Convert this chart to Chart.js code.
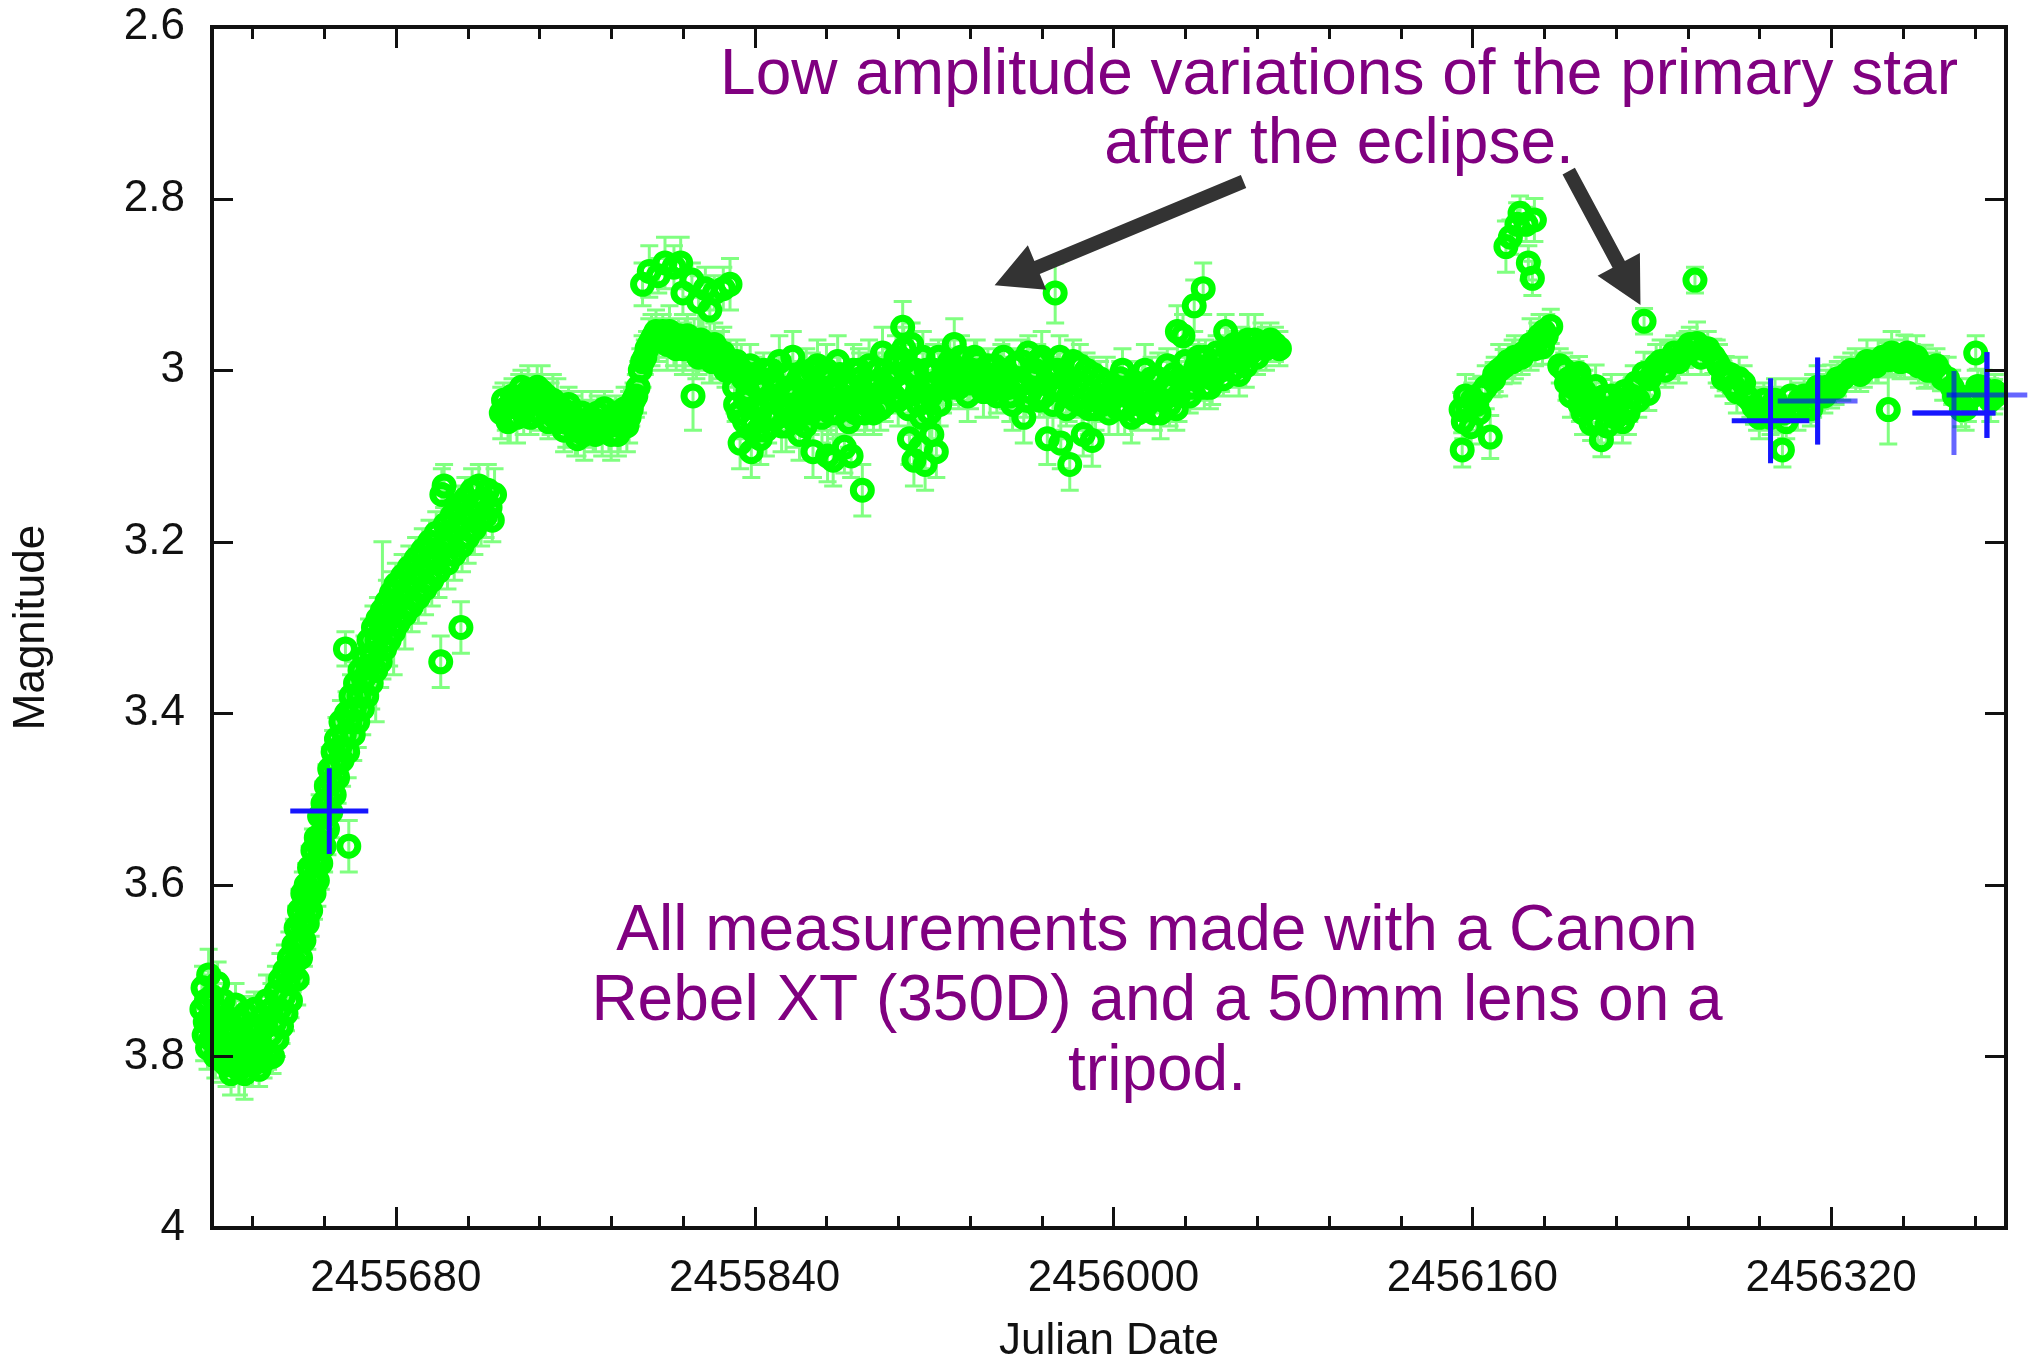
<!DOCTYPE html>
<html>
<head>
<meta charset="utf-8">
<script src="https://cdn.jsdelivr.net/npm/chart.js@4.4.1/dist/chart.umd.min.js"></script>
<style>
  html, body { margin: 0; padding: 0; background: #fff; }
  canvas { display: block; }
</style>
</head>
<body>
<canvas id="lightCurve" width="2038" height="1364"></canvas>
<script>
// === DATA: [julian date, magnitude, error] ===
// eclipse egress
const egress = [
  [2455593.5,3.745,.03],[2455594,3.720,.025],[2455594.5,3.775,.03],[2455595,3.760,.02],[2455595.5,3.735,.03],
  [2455596,3.790,.025],[2455596.5,3.705,.03],[2455597,3.755,.02],[2455597.5,3.780,.025],[2455598,3.730,.03],
  [2455599,3.765,.02],[2455599.5,3.800,.025],[2455600,3.745,.03],[2455600.5,3.715,.025],[2455601,3.785,.02],
  [2455602,3.760,.03],[2455602.5,3.805,.025],[2455603,3.735,.02],[2455604,3.775,.03],[2455604.5,3.810,.025],
  [2455605,3.755,.02],[2455606,3.790,.03],[2455606.5,3.820,.025],[2455607,3.765,.02],[2455608,3.800,.03],
  [2455608.5,3.740,.025],[2455609,3.785,.02],[2455610,3.815,.03],[2455610.5,3.760,.025],[2455611,3.795,.02],
  [2455612,3.775,.03],[2455612.5,3.820,.03],[2455613,3.750,.02],[2455614,3.800,.025],[2455614.5,3.785,.03],
  [2455615,3.765,.02],[2455616,3.810,.025],[2455616.5,3.790,.03],[2455617,3.745,.02],[2455618,3.800,.025],
  [2455618.5,3.770,.03],[2455619,3.815,.02],[2455620,3.755,.025],[2455620.5,3.790,.03],[2455621,3.805,.02],
  [2455622,3.765,.025],[2455622.5,3.735,.03],[2455623,3.795,.02],[2455624,3.775,.025],[2455624.5,3.745,.03],
  [2455625,3.800,.02],[2455626,3.760,.025],[2455626.5,3.725,.03],[2455627,3.780,.02],[2455628,3.745,.025],
  [2455628.5,3.710,.03],[2455629,3.765,.02],[2455630,3.730,.025],[2455630.5,3.700,.03],[2455631,3.750,.02],
  [2455632,3.715,.025],[2455632.5,3.685,.03],[2455633,3.735,.02],[2455634,3.700,.025],[2455634.5,3.670,.03],
  [2455635,3.690,.02],[2455635.5,3.650,.025],[2455636,3.710,.03],[2455636.5,3.665,.02],[2455637,3.630,.025],
  [2455637.5,3.685,.03],[2455638,3.645,.02],[2455638.5,3.610,.025],[2455639,3.665,.03],[2455639.5,3.625,.02],
  [2455640,3.600,.025],[2455640.5,3.645,.03],[2455641,3.610,.02],[2455641.5,3.580,.025],[2455642,3.630,.03],
  [2455642.5,3.595,.02],[2455643,3.560,.025],[2455643.5,3.610,.03],[2455644,3.575,.02],[2455644.5,3.545,.025],
  [2455645,3.595,.03],[2455645.5,3.555,.02],[2455646,3.520,.025],[2455646.5,3.575,.03],[2455647,3.540,.02],
  [2455647.5,3.505,.025],[2455648,3.555,.03],[2455648.5,3.520,.02],[2455649,3.485,.025],[2455649.5,3.535,.03],
  [2455650,3.500,.02],[2455650.5,3.465,.025],[2455651,3.515,.03],[2455651.5,3.480,.02],[2455652,3.445,.025],
  [2455652.5,3.495,.03],[2455653,3.460,.02],[2455653.5,3.430,.025],[2455654,3.475,.03],[2455655,3.440,.02],
  [2455655.5,3.410,.025],[2455656,3.455,.03],[2455657,3.425,.02],[2455657.5,3.325,.02],[2455658,3.400,.025],
  [2455658.5,3.445,.03],[2455659,3.555,.03],[2455659.5,3.410,.02],[2455660,3.380,.025],[2455661,3.425,.03],
  [2455661.5,3.395,.02],[2455662,3.365,.025],[2455663,3.410,.03],[2455663.5,3.380,.02],[2455664,3.350,.025],
  [2455665,3.395,.03],[2455665.5,3.360,.02],[2455666,3.335,.025],[2455667,3.380,.03],[2455667.5,3.345,.02],
  [2455668,3.315,.025],[2455669,3.365,.03],[2455669.5,3.330,.02],[2455670,3.300,.025],[2455671,3.350,.06],
  [2455671.5,3.315,.02],[2455672,3.290,.025],[2455673,3.340,.03],[2455673.5,3.305,.02],[2455674,3.280,.08],
  [2455675,3.325,.03],[2455675.5,3.295,.02],[2455676,3.270,.025],[2455677,3.315,.03],[2455677.5,3.285,.02],
  [2455678,3.260,.025],[2455679,3.305,.05],[2455679.5,3.275,.02],[2455680,3.250,.025],[2455681,3.295,.03],
  [2455682,3.265,.02],[2455683,3.240,.025],[2455684,3.285,.04],[2455685,3.255,.02],[2455686,3.230,.025],
  [2455687,3.275,.03],[2455688,3.245,.02],[2455689,3.220,.025],[2455690,3.265,.03],[2455691,3.235,.02],
  [2455692,3.210,.025],[2455693,3.255,.03],[2455694,3.225,.02],[2455695,3.200,.025],[2455696,3.245,.03],
  [2455697,3.215,.02],[2455698,3.190,.025],[2455699,3.235,.03],[2455700,3.340,.03],[2455700.5,3.145,.03],
  [2455701,3.205,.02],[2455701.5,3.135,.025],[2455702,3.180,.025],[2455703,3.225,.03],[2455704,3.195,.02],
  [2455705,3.170,.025],[2455706,3.215,.03],[2455707,3.185,.02],[2455708,3.160,.025],[2455709,3.300,.03],
  [2455709.5,3.205,.03],[2455710,3.175,.02],[2455711,3.150,.025],[2455712,3.195,.03],[2455713,3.165,.02],
  [2455714,3.140,.025],[2455715,3.185,.03],[2455716,3.155,.02],[2455717,3.135,.025],[2455718,3.175,.03],
  [2455719,3.150,.02],[2455720,3.170,.025],[2455721,3.140,.03],[2455722,3.160,.02],[2455723,3.175,.025],
  [2455724,3.145,.03]
];

// out of eclipse, 2011 season
const season2011 = [
  [2455727,3.050,.03],[2455729,3.045,.025],[2455731,3.055,.03],[2455733,3.040,.02],[2455735,3.035,.03],
  [2455737,3.050,.025],[2455739,3.025,.03],[2455741,3.030,.02],[2455743,3.020,.025],[2455745,3.025,.03],
  [2455747,3.030,.02],[2455749,3.045,.03],[2455751,3.055,.025],[2455752,3.040,.03],[2455754,3.045,.02],
  [2455756,3.060,.03],[2455758,3.050,.025],[2455760,3.070,.03],[2455762,3.065,.02],[2455764,3.075,.03],
  [2455766,3.060,.025],[2455768,3.065,.03],[2455770,3.050,.02],[2455772,3.070,.03],[2455774,3.060,.025],
  [2455776,3.075,.03],[2455778,3.050,.02],[2455780,3.065,.03],[2455782,3.045,.025],[2455784,3.055,.03],
  [2455786,3.035,.02],[2455788,3.020,.03],[2455789,3.000,.025],[2455790,2.990,.03],[2455792,2.975,.02],
  [2455794,2.965,.03],[2455796,2.955,.025],[2455798,2.960,.02],
  [2455790,2.900,.025],[2455793,2.885,.03],[2455797,2.890,.02],[2455800,2.875,.03],[2455804,2.880,.025],
  [2455807,2.875,.03],[2455808,2.910,.025],[2455812,2.895,.02],[2455815,2.920,.03],[2455818,2.905,.025],
  [2455820,2.930,.03],[2455822,2.910,.02],[2455826,2.905,.025],[2455829,2.900,.03],
  [2455800,2.965,.02],[2455802,2.955,.03],[2455804,2.970,.025],[2455806,2.960,.02],[2455808,2.975,.03],
  [2455810,2.960,.025],[2455812,2.970,.02],[2455812.5,3.030,.04],[2455814,2.980,.03],[2455816,2.965,.025],
  [2455818,2.975,.02],[2455820,2.985,.03],[2455822,2.970,.025],[2455824,2.990,.02],[2455826,2.980,.03],
  [2455828,2.995,.025],[2455830,3.000,.02],
  [2455831,3.020,.03],[2455832,2.990,.025],[2455833,3.050,.03],[2455833.5,3.085,.03],[2455835,3.010,.02],
  [2455836,3.035,.03],[2455838,2.995,.025],[2455838.5,3.095,.03],[2455839,3.060,.02],[2455841,3.020,.03],
  [2455842,3.045,.025],[2455842.5,3.080,.03],[2455844,3.000,.02],[2455845,3.070,.03],[2455847,3.030,.025],
  [2455848,3.010,.03],[2455850,3.055,.02],[2455851,2.990,.03],[2455853,3.040,.025],[2455854,3.065,.03],
  [2455856,3.020,.02],[2455857,2.985,.03],[2455859,3.045,.025],[2455860,3.075,.03],[2455862,3.030,.02],
  [2455863,3.005,.03],[2455865,3.050,.025],[2455866,3.095,.03],[2455866.5,3.020,.02],[2455868,2.995,.03],
  [2455869,3.040,.025],[2455871,3.030,.02],[2455872,3.000,.03],[2455872.5,3.100,.03],[2455874,3.050,.025],
  [2455875,3.105,.03],[2455876,3.020,.02],[2455877,2.990,.03],[2455879,3.040,.025],[2455880,3.090,.03],
  [2455881,3.015,.02],[2455882,3.060,.03],[2455883,3.100,.025],[2455884,3.000,.03],[2455886,3.035,.02],
  [2455887,3.010,.03],[2455888,3.140,.03],[2455889,3.050,.025],[2455891,2.995,.03],[2455892,3.030,.02],
  [2455894,3.015,.03],[2455896,3.045,.025],[2455897,2.980,.03],[2455899,3.020,.02],[2455901,3.005,.03],
  [2455903,2.985,.025],[2455904,3.035,.03],
  [2455906,2.950,.03],[2455907,2.990,.025],[2455908,3.020,.02],[2455909,3.080,.03],[2455910,2.970,.025],
  [2455911,3.105,.03],[2455912,3.000,.02],[2455913,3.040,.03],[2455914,3.090,.025],[2455915,2.985,.03],
  [2455916,3.110,.03],[2455917,3.020,.02],[2455918,3.050,.03],[2455919,3.075,.025],[2455920,3.000,.03],
  [2455921,3.095,.03],[2455922,2.985,.02],[2455924,3.020,.03],
  [2455925,3.000,.02],[2455927,2.990,.025],[2455928,3.020,.02],[2455929,2.970,.03],[2455930,3.005,.02],
  [2455932,2.985,.025],[2455933,3.015,.02],[2455935,3.030,.03],[2455937,3.000,.02],[2455939,2.990,.025],
  [2455940,3.010,.02],[2455942,3.025,.03],[2455944,2.995,.02],[2455946,3.010,.025],[2455948,3.030,.02],
  [2455950,3.000,.03],[2455951,2.985,.02],[2455953,3.020,.025],[2455955,3.040,.03],[2455956,2.995,.02],
  [2455958,3.010,.025],[2455960,3.055,.03],[2455962,2.980,.02],[2455963,3.025,.03],[2455965,3.000,.025],
  [2455967,3.035,.02],[2455968,2.985,.03],[2455970,3.015,.025],[2455970.5,3.080,.03],[2455974,2.910,.035],
  [2455972,3.000,.02],[2455974.5,3.020,.03],[2455976,2.985,.025],[2455976.5,3.085,.03],[2455978,3.010,.02],
  [2455980,3.030,.03],[2455980.5,3.110,.03],[2455982,2.990,.025],[2455984,3.015,.02],[2455986,3.040,.03],
  [2455986.5,3.075,.025],[2455988,3.000,.02],[2455990,3.025,.03],[2455990.5,3.082,.03],[2455992,3.045,.025],
  [2455994,3.010,.02],[2455996,3.030,.03],[2455998,3.050,.025],
  [2456000,3.020,.02],[2456002,3.045,.03],[2456004,3.000,.025],[2456006,3.030,.02],[2456008,3.055,.03],
  [2456010,3.015,.025],[2456012,3.040,.02],[2456014,3.000,.03],[2456016,3.025,.025],[2456018,3.050,.02],
  [2456020,3.010,.03],[2456022,3.035,.025],[2456024,2.995,.02],[2456026,3.020,.03],[2456028,3.045,.025],
  [2456028.5,2.955,.03],[2456031,2.960,.025],[2456036,2.925,.03],[2456040,2.905,.03],
  [2456030,3.010,.02],[2456032,2.990,.025],[2456034,3.030,.02],[2456036.5,3.000,.03],[2456038,2.985,.02],
  [2456040.5,3.020,.025],[2456042,2.995,.02],[2456044,3.010,.03],[2456046,2.980,.02],[2456048,3.000,.025],
  [2456050,2.955,.02],[2456052,2.990,.03],[2456054,2.970,.02],[2456056,3.005,.025],[2456058,2.985,.02],
  [2456060,2.965,.03],[2456062,2.975,.02],[2456066,2.970,.025],[2456072,2.970,.02]
];

// second camera run in the same nights, 2011 season
const season2011b = [
  [2455728,3.035,.02],[2455730,3.060,.025],[2455732,3.030,.02],[2455734,3.055,.03],[2455736,3.020,.02],
  [2455738,3.040,.025],[2455740,3.055,.02],[2455742,3.035,.03],[2455744,3.050,.02],[2455746,3.040,.025],
  [2455748,3.060,.02],[2455750,3.035,.03],[2455753,3.060,.02],[2455755,3.070,.025],[2455757,3.040,.02],
  [2455759,3.060,.03],[2455761,3.080,.02],[2455763,3.050,.025],[2455765,3.070,.02],[2455767,3.055,.03],
  [2455769,3.075,.02],[2455771,3.060,.025],[2455773,3.045,.02],[2455775,3.065,.03],[2455777,3.060,.02],
  [2455779,3.075,.025],[2455781,3.055,.02],[2455783,3.065,.03],[2455785,3.045,.02],[2455787,3.030,.025],
  [2455791,2.985,.02],[2455793,2.970,.03],[2455795,2.960,.02],[2455797,2.965,.025],[2455799,2.955,.02],
  [2455801,2.970,.03],[2455803,2.960,.02],[2455805,2.975,.025],[2455807,2.965,.02],[2455809,2.970,.03],
  [2455811,2.975,.02],[2455813,2.965,.025],[2455815,2.985,.02],[2455817,2.970,.03],[2455819,2.980,.02],
  [2455821,2.990,.025],[2455823,2.975,.02],[2455825,2.985,.03],[2455827,3.000,.02],[2455829,2.990,.025],
  [2455831.5,3.040,.02],[2455834,3.000,.03],[2455835.5,3.060,.02],[2455837,3.025,.025],[2455839.5,3.005,.02],
  [2455840,3.045,.03],[2455841.5,3.070,.02],[2455843,3.015,.025],[2455844.5,3.040,.02],[2455846,3.055,.03],
  [2455847.5,3.000,.02],[2455849,3.035,.025],[2455850.5,3.020,.02],[2455852,3.065,.03],[2455853.5,3.005,.02],
  [2455855,3.045,.025],[2455856.5,3.030,.02],[2455858,3.060,.03],[2455859.5,3.010,.02],[2455861,3.040,.025],
  [2455862.5,3.065,.02],[2455864,3.025,.03],[2455865.5,3.000,.02],[2455867,3.045,.025],[2455868.5,3.025,.02],
  [2455870,3.055,.03],[2455871.5,3.010,.02],[2455873,3.040,.025],[2455874.5,3.020,.02],[2455876.5,3.050,.03],
  [2455878,3.005,.02],[2455879.5,3.030,.025],[2455881.5,3.045,.02],[2455883.5,3.020,.03],[2455885,3.050,.02],
  [2455886.5,3.000,.025],[2455888.5,3.025,.02],[2455890,3.040,.03],[2455891.5,3.015,.02],[2455893,3.050,.025],
  [2455895,3.000,.02],[2455896.5,3.025,.03],[2455898,3.040,.02],[2455900,3.010,.025],[2455902,3.030,.02],
  [2455903.5,3.005,.03],[2455905,3.020,.02],[2455906.5,2.975,.025],[2455908.5,3.045,.02],[2455910.5,3.000,.03],
  [2455912.5,3.025,.02],[2455914.5,3.055,.025],[2455916.5,3.000,.02],[2455918.5,3.030,.03],[2455920.5,3.015,.02],
  [2455922.5,3.040,.025],[2455924.5,3.000,.02],[2455926,3.010,.03],[2455928.5,2.995,.02],[2455931,3.020,.025],
  [2455934,3.000,.02],[2455936,3.015,.03],[2455938,2.985,.02],[2455941,3.000,.025],[2455943,3.015,.02],
  [2455945,3.025,.03],[2455947,2.995,.02],[2455949,3.015,.025],[2455952,3.005,.02],[2455954,3.030,.03],
  [2455957,3.020,.02],[2455959,2.990,.025],[2455961,3.035,.02],[2455964,3.010,.03],[2455966,2.990,.02],
  [2455969,3.030,.025],[2455971,3.005,.02],[2455973,3.040,.03],[2455975,3.000,.02],[2455977,3.025,.025],
  [2455979,3.045,.02],[2455981,3.010,.03],[2455983,3.035,.02],[2455985,2.995,.025],[2455987,3.020,.02],
  [2455989,3.045,.03],[2455991,3.005,.02],[2455993,3.030,.025],[2455995,3.040,.02],[2455997,3.015,.03],
  [2455999,3.035,.02],[2456001,3.030,.025],[2456003,3.010,.02],[2456005,3.045,.03],[2456007,3.020,.02],
  [2456009,3.035,.025],[2456011,3.050,.02],[2456013,3.020,.03],[2456015,3.040,.02],[2456017,3.010,.025],
  [2456019,3.030,.02],[2456021,3.050,.03],[2456023,3.020,.02],[2456025,3.040,.025],[2456027,3.005,.02],
  [2456029,3.030,.03],[2456033,3.010,.02],[2456035,3.020,.025],[2456037,2.995,.02],[2456039,3.005,.03],
  [2456041,2.985,.02],[2456043,3.020,.025],[2456045,3.000,.02],[2456047,2.990,.03],[2456049,3.010,.02],
  [2456051,2.975,.025],[2456053,3.000,.02],[2456055,2.985,.03],[2456057,2.970,.02],[2456059,2.995,.025],
  [2456061,2.980,.02],[2456063,2.965,.03],[2456064,2.985,.02],[2456068,2.975,.025],[2456070,2.965,.02],
  [2456074,2.975,.02]
];

// 2012-2013 season
const season2012 = [
  [2456155,3.046,.02],[2456155.5,3.093,.02],[2456157,3.030,.025],[2456159.5,3.066,.02],[2456162,3.040,.03],
  [2456164,3.027,.02],[2456168,3.078,.025],[2456169.5,3.011,.02],[2456172,3.000,.03],[2456174,2.996,.02],
  [2456175,2.856,.03],[2456177,2.845,.02],[2456180,2.830,.025],[2456181.3,2.817,.02],[2456184,2.830,.02],
  [2456187.7,2.825,.025],[2456185,2.875,.02],[2456186.8,2.893,.02],[2456178,2.990,.025],[2456182,2.985,.02],
  [2456186,2.970,.03],[2456188,2.975,.02],[2456190,2.960,.025],[2456191.3,2.973,.02],[2456192,2.955,.02],
  [2456195,2.949,.02],[2456201,3.000,.02],[2456203,3.010,.025],[2456205,3.020,.02],[2456207.6,3.004,.02],
  [2456209.4,3.050,.025],[2456211,3.035,.02],[2456213,3.062,.02],[2456215,3.019,.025],[2456217.6,3.081,.02],
  [2456218.5,3.031,.02],[2456221,3.045,.025],[2456224,3.055,.02],[2456226,3.035,.02],[2456229.4,3.050,.025],
  [2456231,3.030,.02],[2456233,3.015,.02],[2456236.6,3.004,.025],[2456238.5,3.027,.02],[2456236.6,2.943,.015],
  [2456241,3.000,.02],[2456244,2.990,.025],[2456247.5,2.988,.02],[2456250,2.980,.02],[2456252,2.990,.025],
  [2456254.8,2.977,.02],[2456257,2.970,.02],[2456260.2,2.969,.025],[2456259.3,2.895,.015],[2456263,2.975,.02],
  [2456267.5,2.984,.02],[2456270,2.995,.025],[2456273,3.004,.02],[2456276.5,3.019,.02],[2456279,3.010,.025],
  [2456282,3.030,.02],[2456285.6,3.043,.02],[2456288,3.055,.025],[2456291,3.050,.02],[2456294,3.040,.02],
  [2456296.5,3.046,.025],[2456298.3,3.093,.02],[2456300,3.060,.02],[2456303,3.045,.025],[2456306,3.035,.02],
  [2456309,3.040,.02],[2456312,3.030,.025],[2456315,3.025,.02],[2456318,3.020,.02],[2456320,3.019,.025],
  [2456323,3.010,.02],[2456327,3.005,.02],[2456331,3.000,.025],[2456334.6,3.000,.02],[2456338,2.995,.02],
  [2456341,2.990,.025],[2456345.5,2.988,.02],[2456345.5,3.046,.04],[2456349,2.985,.02],[2456352.7,2.984,.025],
  [2456356,2.990,.02],[2456359,2.995,.02],[2456361.8,2.996,.025],[2456365,3.000,.02],[2456369,3.004,.02],
  [2456372,3.010,.025],[2456375,3.030,.02],[2456378.1,3.046,.02],[2456381,3.035,.025],[2456384.5,2.980,.02],
  [2456385.4,3.019,.02],[2456388,3.025,.025],[2456390,3.030,.02],[2456392.7,3.031,.02],
  [2456156,3.060,.02],[2456158,3.045,.025],[2456160,3.035,.02],[2456163,3.050,.02],[2456166,3.020,.025],
  [2456170,3.005,.02],[2456176,2.990,.02],[2456179,2.985,.025],[2456183,2.980,.02],[2456189,2.965,.02],
  [2456193,2.960,.025],[2456199,2.995,.02],[2456202,3.015,.02],[2456204,3.030,.025],[2456206,3.010,.02],
  [2456208,3.040,.02],[2456210,3.025,.025],[2456212,3.045,.02],[2456214,3.035,.02],[2456216,3.060,.025],
  [2456219,3.045,.02],[2456220,3.065,.02],[2456222,3.030,.025],[2456223,3.050,.02],[2456225,3.040,.02],
  [2456227,3.060,.025],[2456228,3.025,.02],[2456230,3.040,.02],[2456232,3.020,.025],[2456234,3.035,.02],
  [2456239,3.010,.02],[2456242,2.995,.025],[2456246,3.000,.02],[2456249,2.990,.02],[2456256,2.980,.025],
  [2456262,2.985,.02],[2456265,2.975,.02],[2456269,2.990,.025],[2456272,3.010,.02],[2456275,3.005,.02],
  [2456278,3.025,.025],[2456281,3.015,.02],[2456284,3.035,.02],[2456287,3.045,.025],[2456290,3.035,.02],
  [2456293,3.055,.02],[2456295,3.035,.025],[2456299,3.050,.02],[2456302,3.030,.02],[2456305,3.045,.025],
  [2456308,3.030,.02],[2456311,3.045,.02],[2456314,3.020,.025],[2456317,3.030,.02],[2456322,3.020,.02],
  [2456325,3.010,.025],[2456329,3.000,.02],[2456333,3.005,.02],[2456336,2.990,.025],[2456340,2.995,.02],
  [2456343,2.985,.02],[2456347,2.980,.025],[2456351,2.990,.02],[2456354,2.980,.02],[2456358,2.985,.025],
  [2456363,3.000,.02],[2456367,2.995,.02],[2456370,3.010,.025],[2456374,3.020,.02],[2456377,3.030,.02],
  [2456380,3.045,.025],[2456383,3.030,.02],[2456387,3.020,.02],[2456391,3.035,.025],[2456393,3.025,.02]
];

// blue binned points: [julian date, magnitude, date error, magnitude error]
const binnedSolid = [
  [2455650.3,3.514,17.4,0.050],
  [2456293.0,3.059,17.3,0.0495],
  [2456314.0,3.036,0,0.0506],
  [2456374.8,3.050,18.5,0],
  [2456389.5,3.029,0,0.050]
];
const binnedFaded = [
  [2456314.0,3.036,17.8,0.0506],
  [2456374.8,3.050,18.5,0.049],
  [2456389.5,3.029,18.0,0.050]
];

// axis ranges and ticks
const jdMin = 2455598, jdMax = 2456398;
const jdMinorStep = 32;
const jdLabels = [2455680, 2455840, 2456000, 2456160, 2456320];
const magMin = 2.6, magMax = 4.0, magStep = 0.2;

const noteVariations = ['Low amplitude variations of the primary star', 'after the eclipse.'];
const noteEquipment = ['All measurements made with a Canon', 'Rebel XT (350D) and a 50mm lens on a', 'tripod.'];
// arrows: [from jd, from mag, to jd, to mag]
const arrows = [
  [2456058, 2.780, 2455947, 2.901],
  [2456203, 2.768, 2456235, 2.924]
];

const FONT = '"Liberation Sans", Arial, Helvetica, sans-serif';
const allGreen = [...egress, ...season2011, ...season2011b, ...season2012];

// === PLUGINS ===
const errorBars = {
  id: 'errorBars',
  beforeDatasetsDraw(chart) {
    const { ctx, scales: { x, y } } = chart;
    ctx.save();
    ctx.strokeStyle = '#80ff80';
    ctx.lineWidth = 3;
    ctx.beginPath();
    allGreen.forEach(([t, m, e]) => {
      const px = x.getPixelForValue(t);
      const top = y.getPixelForValue(m - e);
      const bot = y.getPixelForValue(m + e);
      ctx.moveTo(px, top); ctx.lineTo(px, bot);
      ctx.moveTo(px - 9, top); ctx.lineTo(px + 9, top);
      ctx.moveTo(px - 9, bot); ctx.lineTo(px + 9, bot);
    });
    ctx.stroke();
    ctx.restore();
  }
};

function drawCrosses(ctx, x, y, list, color) {
  ctx.strokeStyle = color;
  ctx.lineWidth = 5;
  list.forEach(([t, m, dt, dm]) => {
    const px = x.getPixelForValue(t), py = y.getPixelForValue(m);
    ctx.beginPath();
    if (dt > 0) {
      ctx.moveTo(x.getPixelForValue(t - dt), py);
      ctx.lineTo(x.getPixelForValue(t + dt), py);
    }
    if (dm > 0) {
      ctx.moveTo(px, y.getPixelForValue(m - dm));
      ctx.lineTo(px, y.getPixelForValue(m + dm));
    }
    ctx.stroke();
  });
}

const crossesAndFrame = {
  id: 'crossesAndFrame',
  afterDatasetsDraw(chart) {
    const { ctx, chartArea: a, scales: { x, y } } = chart;
    ctx.save();
    drawCrosses(ctx, x, y, binnedFaded, 'rgba(0,0,255,0.6)');
    drawCrosses(ctx, x, y, binnedSolid, '#1616ff');

    // frame with inward ticks, gnuplot style
    ctx.strokeStyle = '#111';
    ctx.lineWidth = 3;
    ctx.beginPath();
    x.ticks.forEach(tk => {
      const px = Math.round(x.getPixelForValue(tk.value)) + 0.5;
      const len = jdLabels.includes(tk.value) ? 21 : 12;
      ctx.moveTo(px, a.bottom); ctx.lineTo(px, a.bottom - len);
      ctx.moveTo(px, a.top); ctx.lineTo(px, a.top + len);
    });
    y.ticks.forEach(tk => {
      const py = Math.round(y.getPixelForValue(tk.value)) + 0.5;
      ctx.moveTo(a.left, py); ctx.lineTo(a.left + 21, py);
      ctx.moveTo(a.right, py); ctx.lineTo(a.right - 21, py);
    });
    ctx.stroke();
    ctx.lineWidth = 4;
    ctx.strokeRect(a.left, a.top, a.right - a.left, a.bottom - a.top);
    ctx.restore();
  }
};

const notes = {
  id: 'notes',
  afterDraw(chart) {
    const { ctx, scales: { x, y } } = chart;
    ctx.save();
    // arrows
    ctx.fillStyle = '#333333';
    arrows.forEach(([t0, m0, t1, m1]) => {
      const x0 = x.getPixelForValue(t0), y0 = y.getPixelForValue(m0);
      const x1 = x.getPixelForValue(t1), y1 = y.getPixelForValue(m1);
      const ang = Math.atan2(y1 - y0, x1 - x0);
      const len = Math.hypot(x1 - x0, y1 - y0);
      const head = 46, half = 24, shaft = 7;
      ctx.save();
      ctx.translate(x0, y0);
      ctx.rotate(ang);
      ctx.beginPath();
      ctx.moveTo(0, -shaft);
      ctx.lineTo(len - head, -shaft);
      ctx.lineTo(len - head, -half);
      ctx.lineTo(len, 0);
      ctx.lineTo(len - head, half);
      ctx.lineTo(len - head, shaft);
      ctx.lineTo(0, shaft);
      ctx.closePath();
      ctx.fill();
      ctx.restore();
    });
    // purple notes
    ctx.fillStyle = '#800080';
    ctx.font = '64px ' + FONT;
    ctx.textAlign = 'center';
    ctx.textBaseline = 'alphabetic';
    noteVariations.forEach((line, i) => ctx.fillText(line, 1339, 94 + i * 69));
    noteEquipment.forEach((line, i) => ctx.fillText(line, 1157, 950 + i * 70));
    ctx.restore();
  }
};

// === CHART ===
const toXY = rows => rows.map(([t, m]) => ({ x: t, y: m }));

new Chart(document.getElementById('lightCurve'), {
  type: 'scatter',
  data: {
    datasets: [
      {
        label: 'Magnitude',
        data: toXY(allGreen),
        pointStyle: 'circle',
        pointRadius: 9,
        pointBorderWidth: 7,
        pointBorderColor: '#00ff00',
        pointBackgroundColor: 'rgba(0,0,0,0)',
        clip: false
      },
      {
        label: 'Binned',
        data: toXY([...binnedSolid, ...binnedFaded]),
        pointRadius: 0,
        clip: false
      }
    ]
  },
  plugins: [errorBars, crossesAndFrame, notes],
  options: {
    responsive: false,
    animation: false,
    devicePixelRatio: 1,
    layout: { padding: { top: 27, right: 32, left: 0, bottom: 0 } },
    plugins: { legend: { display: false }, tooltip: { enabled: false } },
    scales: {
      x: {
        type: 'linear',
        min: jdMin,
        max: jdMax,
        grid: { display: false, drawTicks: false },
        border: { display: false },
        afterFit(scale) {
          scale.height = 136;
          scale.paddingLeft = 0;
          scale.paddingRight = 0;
        },
        afterBuildTicks(scale) {
          const list = [];
          for (let v = Math.ceil(jdMin / jdMinorStep) * jdMinorStep; v <= jdMax; v += jdMinorStep) {
            list.push({ value: v });
          }
          scale.ticks = list;
        },
        ticks: {
          autoSkip: false,
          maxRotation: 0,
          padding: 24,
          color: '#111',
          font: { family: FONT, size: 44 },
          callback: v => (jdLabels.includes(v) ? String(v) : '')
        },
        title: {
          display: true,
          text: 'Julian Date',
          color: '#111',
          font: { family: FONT, size: 44, lineHeight: 1 },
          padding: { top: 0, bottom: 0 }
        }
      },
      y: {
        type: 'linear',
        reverse: true,
        min: magMin,
        max: magMax,
        grid: { display: false, drawTicks: false },
        border: { display: false },
        afterFit(scale) {
          scale.width = 212;
          scale.paddingTop = 0;
          scale.paddingBottom = 0;
        },
        ticks: {
          stepSize: magStep,
          padding: 27,
          color: '#111',
          font: { family: FONT, size: 44 },
          callback: v => String(Number(v.toFixed(1)))
        },
        title: {
          display: true,
          text: 'Magnitude',
          color: '#111',
          font: { family: FONT, size: 44, lineHeight: 1 },
          padding: { top: 10, bottom: 0 }
        }
      }
    }
  }
});
</script>
</body>
</html>
